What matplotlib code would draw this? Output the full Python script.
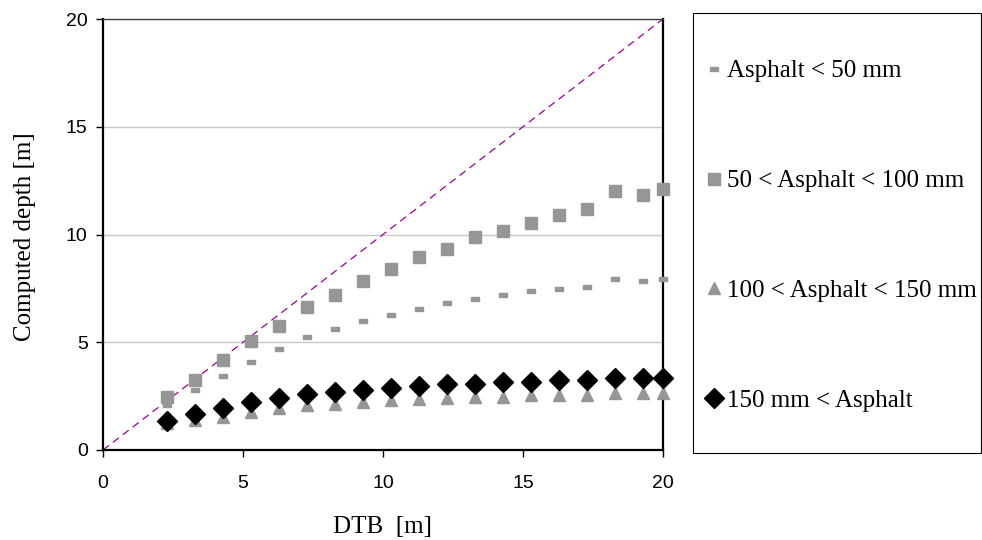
import matplotlib
matplotlib.use("Agg")
import matplotlib.pyplot as plt
import numpy as np
from matplotlib.path import Path
from matplotlib.patches import Rectangle

# DTB positions of the measured points
dtb = [2.3, 3.3, 4.3, 5.3, 6.3, 7.3, 8.3, 9.3, 10.3, 11.3, 12.3, 13.3,
       14.3, 15.3, 16.3, 17.3, 18.3, 19.3, 20.0]

# computed depth per asphalt class
lt50 = [2.07, 2.80, 3.45, 4.10, 4.68, 5.23, 5.61, 5.98, 6.26, 6.54, 6.81,
        7.00, 7.19, 7.37, 7.46, 7.56, 7.93, 7.84, 7.93]
a50_100 = [2.45, 3.25, 4.19, 5.05, 5.77, 6.63, 7.17, 7.82, 8.39, 8.95, 9.32,
           9.88, 10.14, 10.53, 10.90, 11.18, 12.00, 11.83, 12.11]
a100_150 = [1.25, 1.39, 1.55, 1.75, 1.94, 2.07, 2.14, 2.22, 2.30, 2.38, 2.40,
            2.46, 2.48, 2.54, 2.55, 2.56, 2.64, 2.66, 2.66]
gt150 = [1.36, 1.66, 1.94, 2.22, 2.42, 2.60, 2.68, 2.77, 2.86, 2.96, 3.05,
         3.05, 3.14, 3.14, 3.24, 3.24, 3.33, 3.33, 3.33]

labels = ["Asphalt < 50 mm", "50 < Asphalt < 100 mm",
          "100 < Asphalt < 150 mm", "150 mm < Asphalt"]

grey = "#969696"
serif = ["Liberation Serif", "DejaVu Serif"]
sans = ["Liberation Sans", "DejaVu Sans"]

# small flat bar used as marker for the thinnest class
dash = Path([(-1, -0.5), (1, -0.5), (1, 0.5), (-1, 0.5), (-1, -0.5)],
            [Path.MOVETO, Path.LINETO, Path.LINETO, Path.LINETO, Path.CLOSEPOLY])

W, H = 982, 540
fig = plt.figure(figsize=(W / 100, H / 100), dpi=100)
ax = fig.add_axes([103 / W, 1 - 450 / H, 560 / W, 431 / H])

ax.plot([0, 20], [0, 20], ls=(0, (6, 4)), color="#990099", lw=0.9, zorder=2)

h1, = ax.plot(dtb, lt50, ls="none", marker=dash, ms=6, color=grey, mec=grey,
              zorder=3, clip_on=False)
h2, = ax.plot(dtb, a50_100, ls="none", marker="s", ms=9, color=grey, mec=grey,
              zorder=3, clip_on=False)
h3, = ax.plot(dtb, a100_150, ls="none", marker="^", ms=9, color=grey, mec=grey,
              zorder=3, clip_on=False)
h4, = ax.plot(dtb, gt150, ls="none", marker="D", ms=10.5, color="black",
              mec="black", zorder=4, clip_on=False)

ax.set_xlim(0, 20)
ax.set_ylim(0, 20)
ax.set_xticks([0, 5, 10, 15, 20])
ax.set_yticks([0, 5, 10, 15, 20])
ax.yaxis.grid(True, color="#c8c8c8", lw=1)
ax.set_axisbelow(True)
for s in ["left", "bottom", "right"]:
    ax.spines[s].set_linewidth(1.6)
    ax.spines[s].set_color("black")
ax.spines["top"].set_color("#404040")
ax.spines["top"].set_linewidth(1)
ax.tick_params(direction="out", length=5, width=1, labelsize=14)
ax.tick_params(axis="x", pad=13)
ax.tick_params(axis="y", pad=6)
for t in ax.get_xticklabels() + ax.get_yticklabels():
    t.set_family(sans)

ax.set_xlabel("DTB  [m]", family=serif, fontsize=18)
ax.set_ylabel("Computed depth [m]", family=serif, fontsize=18)
ax.xaxis.set_label_coords(0.5, (450 - 516) / 431)
ax.yaxis.set_label_coords((36 - 103) / 560, 0.495)

# legend box drawn separately, entries spread out inside it
fig.patches.append(Rectangle((693 / W, 1 - 452.7 / H), 288 / W, 440 / H,
                             transform=fig.transFigure, fill=False,
                             edgecolor="black", lw=0.8))
leg = fig.legend([h1, h2, h3, h4], labels, loc="upper left",
                 bbox_to_anchor=(706 / W, 1 - 60 / H),
                 borderaxespad=0, borderpad=0, frameon=False,
                 handlelength=0.6, handletextpad=0.25, labelspacing=3.49,
                 prop={"family": serif, "size": 18})

fig.savefig("out.png", dpi=100)
